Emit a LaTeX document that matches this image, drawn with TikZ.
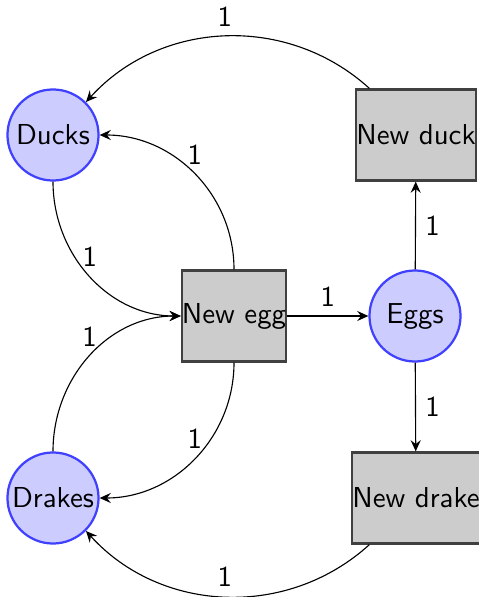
\documentclass[tikz,border=0pt]{standalone}
\usetikzlibrary{arrows.meta}
\begin{document}
\begin{tikzpicture}[x=0.357pt,y=-0.357pt,
  every node/.style={font=\sffamily\fontsize{10.3}{12}\selectfont},
  place/.style={circle, draw=blue!75, fill=blue!20, thick, minimum size=32.5pt, inner sep=0pt},
  transition/.style={rectangle, draw=black!75, fill=black!20, thick, minimum height=32.5pt, inner xsep=0pt},
  arr/.style={-{Stealth[length=4pt,width=3.6pt,inset=1.4pt]}}]
\useasboundingbox (0,0) rectangle (479,597);
\node[place] (ducks) at (53,135) {Ducks};
\node[place] (drakes) at (53,498) {Drakes};
\node[place] (eggs) at (415,316) {Eggs};
\node[transition] (newegg) at (234,316) {New egg};
\node[transition] (newduck) at (416,135) {New duck};
\node[transition] (newdrake) at (416,498) {New drake};
\draw[arr] (newduck) to[bend right=45] node[above] {1} (ducks);
\draw[arr] (newegg) to[out=90,in=0] node[above] {1} (ducks);
\draw[arr] (ducks) to[out=-90,in=180] node[above] {1} (newegg);
\draw[arr] (drakes) to[out=90,in=180] node[above] {1} (newegg);
\draw[arr] (newegg) to[out=-90,in=0] node[above] {1} (drakes);
\draw[arr] (newegg) -- node[above] {1} (eggs);
\draw[arr] (eggs) -- node[right] {1} (newduck);
\draw[arr] (eggs) -- node[right] {1} (newdrake);
\draw[arr] (newdrake) to[bend left=45] node[above] {1} (drakes);
\end{tikzpicture}
\end{document}
